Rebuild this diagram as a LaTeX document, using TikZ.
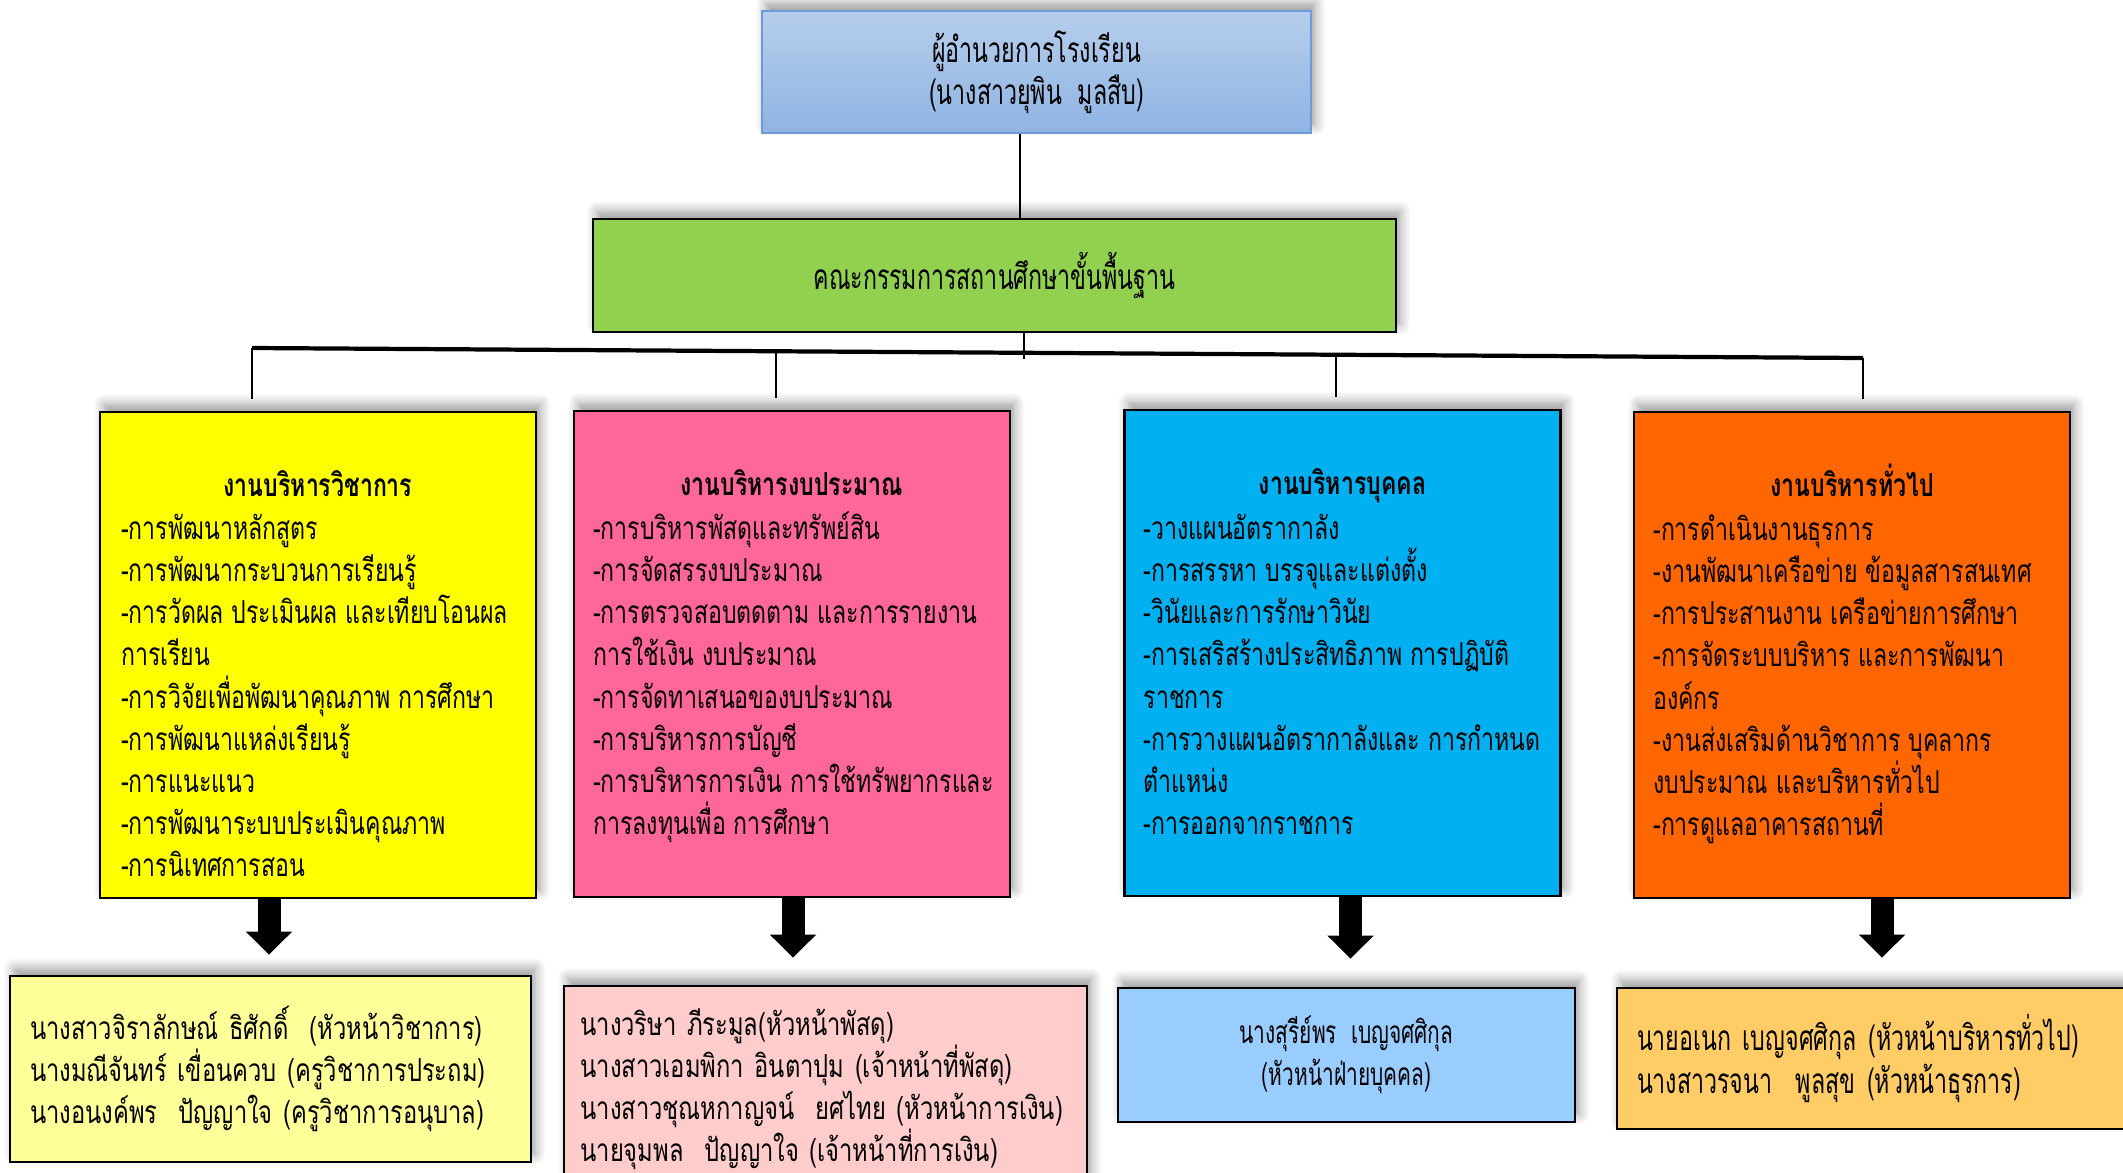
\documentclass[tikz,border=0pt]{standalone}
\usepackage{fontspec}
\newfontfamily\thaiitem[Script=Thai, FakeStretch=0.73]{Loma}
\newfontfamily\thainarrow[Script=Thai, FakeStretch=0.75]{Loma}
\newfontfamily\thaicond[Script=Thai, FakeStretch=0.66]{Loma}
\usetikzlibrary{arrows.meta,shadows.blur,calc}

\begin{document}
\begin{tikzpicture}[
    orgbox/.style={draw, shape=rectangle, line width=0.8pt,
        blur shadow={shadow xshift=1.2pt, shadow yshift=2.2pt, shadow blur radius=3pt, shadow blur steps=6}},
    depttitle/.style={anchor=base, font=\thaiitem\bfseries\fontsize{9}{12}\selectfont},
    deptitems/.style={anchor=north west, align=left, inner sep=0pt, font=\thaiitem\fontsize{9}{12}\selectfont},
    staffbox/.style={orgbox, align=left, inner xsep=0.2cm, font=\thainarrow\fontsize{9}{11.95}\selectfont},
    linkline/.style={line width=0.7pt},
    busline/.style={line width=1.2pt},
    bigarrow/.style={line width=0.23cm, -{Triangle[width=0.45cm,length=0.23cm]}}
]
    \definecolor{dirtop}{RGB}{182, 206, 236}
    \definecolor{dirbot}{RGB}{143, 180, 227}
    \definecolor{dirline}{RGB}{110, 155, 215}
    \definecolor{committeegreen}{RGB}{146, 208, 80}
    \definecolor{acadyellow}{RGB}{255, 255, 0}
    \definecolor{budgetpink}{RGB}{255, 102, 153}
    \definecolor{personblue}{RGB}{0, 176, 240}
    \definecolor{generalorange}{RGB}{255, 102, 0}
    \definecolor{staffyellow}{RGB}{255, 255, 153}
    \definecolor{staffpink}{RGB}{255, 204, 204}
    \definecolor{staffblue}{RGB}{153, 204, 255}
    \definecolor{stafforange}{RGB}{255, 204, 102}
    \def\deptwidth{4.36cm}
    \def\deptheight{4.86cm}
    \def\itemstrut{\rule{0pt}{0.35cm}}

    \useasboundingbox (0,0) rectangle (21.23,-11.72);
    \clip (0,0) rectangle (21.23,-11.72);

    % top of the chart
    \node[orgbox, top color=dirtop, bottom color=dirbot, draw=dirline, line width=0.6pt,
          minimum width=5.49cm, minimum height=1.22cm, align=center,
          font=\thaicond\fontsize{10}{11.95}\selectfont] (director) at (10.365,-0.72)
          {ผู้อำนวยการโรงเรียน\\(นางสาวยุพิน~~มูลสืบ)};
    \node[orgbox, fill=committeegreen, minimum width=8.03cm, minimum height=1.13cm,
          font=\thaicond\fontsize{10}{12}\selectfont] (committee) at (9.945,-2.755)
          {คณะกรรมการสถานศึกษาขั้นพื้นฐาน};

    \coordinate (dirdrop) at (10.20,0);
    \draw[linkline] (director.south -| dirdrop) -- (committee.north -| dirdrop);

    \coordinate (busL) at (2.52,-3.48);
    \coordinate (busR) at (18.63,-3.58);
    \coordinate (busmid) at (10.24,-3.59);
    \draw[linkline] (committee.south -| busmid) -- (busmid);
    \draw[busline] (busL) -- (busR);

    % four work groups
    \node[orgbox, fill=acadyellow, minimum width=\deptwidth, minimum height=\deptheight] (academic) at (3.18,-6.55) {};
    \node[orgbox, fill=budgetpink, minimum width=\deptwidth, minimum height=\deptheight] (budget) at (7.92,-6.54) {};
    \node[orgbox, fill=personblue, minimum width=\deptwidth, minimum height=\deptheight] (personnel) at (13.425,-6.53) {};
    \node[orgbox, fill=generalorange, minimum width=\deptwidth, minimum height=\deptheight] (general) at (18.52,-6.55) {};

    \foreach \t/\dept in {0/academic, 0.3253/budget, 0.6729/personnel, 1/general}{
        \coordinate (drop\dept) at ($(busL)!\t!(busR)$);
        \draw[linkline, shorten >=0.12cm] (drop\dept) -- (drop\dept |- \dept.north);
    }

    \node[depttitle] (academictitle) at ([yshift=-0.86cm]academic.north) {งานบริหารวิชาการ};
    \node[deptitems] (academicitems) at ([xshift=0.22cm, yshift=-0.93cm]academic.north west)
        {\itemstrut-การพัฒนาหลักสูตร\\
         -การพัฒนากระบวนการเรียนรู้\\
         -การวัดผล ประเมินผล และเทียบโอนผล\\
         การเรียน\\
         -การวิจัยเพื่อพัฒนาคุณภาพ การศึกษา\\
         -การพัฒนาแหล่งเรียนรู้\\
         -การแนะแนว\\
         -การพัฒนาระบบประเมินคุณภาพ\\
         -การนิเทศการสอน};

    \node[depttitle] (budgettitle) at ([yshift=-0.86cm]budget.north) {งานบริหารงบประมาณ};
    \node[deptitems] (budgetitems) at ([xshift=0.2cm, yshift=-0.94cm]budget.north west)
        {\itemstrut-การบริหารพัสดุและทรัพย์สิน\\
         -การจัดสรรงบประมาณ\\
         -การตรวจสอบตดตาม และการรายงาน\\
         การใช้เงิน งบประมาณ\\
         -การจัดทาเสนอของบประมาณ\\
         -การบริหารการบัญชี\\
         -การบริหารการเงิน การใช้ทรัพยากรและ\\
         การลงทุนเพื่อ การศึกษา};

    \node[depttitle] (personneltitle) at ([yshift=-0.86cm]personnel.north) {งานบริหารบุคคล};
    \node[deptitems] (personnelitems) at ([xshift=0.2cm, yshift=-0.95cm]personnel.north west)
        {\itemstrut-วางแผนอัตรากาลัง\\
         -การสรรหา บรรจุและแต่งตั้ง\\
         -วินัยและการรักษาวินัย\\
         -การเสริสร้างประสิทธิภาพ การปฏิบัติ\\
         ราชการ\\
         -การวางแผนอัตรากาลังและ การกำหนด\\
         ตำแหน่ง\\
         -การออกจากราชการ};

    \node[depttitle] (generaltitle) at ([yshift=-0.86cm]general.north) {งานบริหารทั่วไป};
    \node[deptitems] (generalitems) at ([xshift=0.2cm, yshift=-0.94cm]general.north west)
        {\itemstrut-การดำเนินงานธุรการ\\
         -งานพัฒนาเครือข่าย ข้อมูลสารสนเทศ\\
         -การประสานงาน เครือข่ายการศึกษา\\
         -การจัดระบบบริหาร และการพัฒนา\\
         องค์กร\\
         -งานส่งเสริมด้านวิชาการ บุคลากร\\
         งบประมาณ และบริหารทั่วไป\\
         -การดูแลอาคารสถานที่};

    % people in charge
    \node[staffbox, fill=staffyellow, text width=4.81cm, minimum height=1.86cm] (academicstaff) at (2.705,-10.69)
        {นางสาวจิราลักษณ์ ธิศักดิ์~~(หัวหน้าวิชาการ)\\
         นางมณีจันทร์ เขื่อนควบ (ครูวิชาการประถม)\\
         นางอนงค์พร~~ปัญญาใจ (ครูวิชาการอนุบาล)};
    \node[staffbox, fill=staffpink, inner xsep=0.165cm, text width=4.9cm, minimum height=2.06cm] (budgetstaff) at (8.255,-10.89)
        {นางวริษา ภีระมูล(หัวหน้าพัสดุ)\\
         นางสาวเอมพิกา อินตาปุม (เจ้าหน้าที่พัสดุ)\\
         นางสาวชุณหกาญจน์~~ยศไทย (หัวหน้าการเงิน)\\
         นายจุมพล~~ปัญญาใจ (เจ้าหน้าที่การเงิน)};
    \node[staffbox, fill=staffblue, align=center, minimum width=4.57cm, minimum height=1.34cm,
          font=\thaicond\fontsize{9}{11.95}\selectfont] (personnelstaff) at (13.465,-10.55)
        {นางสุรีย์พร~~เบญจศศิกุล\\(หัวหน้าฝ่ายบุคคล)};
    \node[staffbox, fill=stafforange, text width=4.9cm, minimum height=1.41cm,
          font=\thaicond\fontsize{10}{12.3}\selectfont] (generalstaff) at (18.82,-10.585)
        {นายอเนก เบญจศศิกุล (หัวหน้าบริหารทั่วไป)\\
         นางสาวรจนา~~พูลสุข (หัวหน้าธุรการ)};

    \coordinate (arrowA) at ([xshift=-0.49cm]academic.south);
    \coordinate (arrowB) at ([xshift=0.01cm]budget.south);
    \coordinate (arrowC) at ([xshift=0.08cm]personnel.south);
    \coordinate (arrowD) at ([xshift=0.30cm]general.south);
    \draw[bigarrow, shorten >=0.2cm] (arrowA) -- (arrowA |- academicstaff.north);
    \draw[bigarrow, shorten >=0.27cm] (arrowB) -- (arrowB |- budgetstaff.north);
    \draw[bigarrow, shorten >=0.28cm] (arrowC) -- (arrowC |- personnelstaff.north);
    \draw[bigarrow, shorten >=0.29cm] (arrowD) -- (arrowD |- generalstaff.north);
\end{tikzpicture}
\end{document}
